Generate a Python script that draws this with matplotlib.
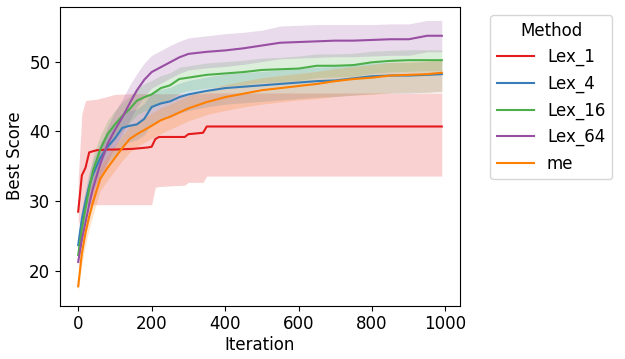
import matplotlib
matplotlib.use("Agg")
import matplotlib.pyplot as plt

# common iteration grid for the four smooth curves
iters = [0, 10, 20, 30, 40, 60, 80, 100, 120, 140, 160, 180, 200, 225, 250, 275,
         300, 350, 400, 450, 500, 550, 600, 650, 700, 750, 800, 850, 900, 950, 990]

lex4_mean = [23.7, 27.5, 30.0, 32.2, 33.8, 36.2, 37.8, 39.0, 40.5, 40.8, 41.0, 41.8, 43.5, 44.0, 44.3, 44.9,
             45.3, 45.8, 46.2, 46.4, 46.6, 46.8, 47.0, 47.2, 47.3, 47.6, 47.9, 48.0, 48.0, 48.1, 48.2]
lex4_lo = [22.6, 25.8, 28.0, 30.0, 31.5, 33.8, 35.4, 36.6, 38.0, 38.5, 38.8, 39.5, 41.1, 41.6, 42.0, 42.6,
           43.0, 43.5, 43.9, 44.1, 44.3, 44.5, 44.7, 44.9, 45.0, 45.2, 45.4, 45.5, 45.5, 45.6, 45.7]
lex4_hi = [24.8, 29.0, 31.8, 34.2, 35.8, 38.4, 40.0, 41.2, 42.6, 43.0, 43.2, 44.0, 45.6, 46.0, 46.3, 46.9,
           47.3, 47.8, 48.2, 48.4, 48.6, 48.8, 49.0, 49.2, 49.3, 49.5, 49.8, 49.9, 49.9, 50.0, 50.1]

lex16_mean = [22.3, 26.0, 29.0, 31.8, 34.3, 37.4, 39.6, 41.0, 42.2, 43.2, 44.4, 44.9, 45.3, 46.2, 46.6, 47.5,
              47.7, 48.1, 48.3, 48.5, 48.8, 48.9, 49.0, 49.4, 49.4, 49.5, 49.9, 50.1, 50.2, 50.2, 50.2]
lex16_lo = [21.2, 24.4, 27.0, 29.6, 32.0, 35.2, 37.4, 38.9, 40.2, 41.2, 42.4, 42.9, 43.3, 44.2, 44.6, 45.5,
            45.8, 46.2, 46.5, 46.7, 47.0, 47.1, 47.3, 47.7, 47.8, 47.9, 48.3, 48.5, 48.6, 48.7, 48.7]
lex16_hi = [23.4, 27.6, 31.0, 33.8, 36.4, 39.4, 41.6, 43.0, 44.2, 45.0, 46.2, 46.8, 47.3, 48.0, 48.4, 49.2,
            49.4, 49.8, 50.0, 50.2, 50.5, 50.6, 50.8, 51.1, 51.1, 51.2, 51.5, 51.6, 51.7, 51.7, 51.7]

lex64_mean = [21.3, 24.5, 27.0, 29.5, 31.8, 35.3, 38.2, 40.2, 42.0, 44.0, 45.9, 47.4, 48.5, 49.2, 49.9, 50.6,
              51.1, 51.4, 51.6, 51.9, 52.3, 52.7, 52.8, 52.9, 53.0, 53.0, 53.1, 53.2, 53.2, 53.7, 53.7]
lex64_lo = [20.4, 23.0, 25.2, 27.4, 29.5, 32.8, 35.7, 37.8, 39.6, 41.6, 43.5, 45.0, 46.2, 46.9, 47.6, 48.3,
            48.8, 49.1, 49.3, 49.6, 50.0, 50.4, 50.5, 50.6, 50.7, 50.7, 50.8, 50.9, 50.9, 51.4, 51.4]
lex64_hi = [22.2, 26.0, 28.8, 31.6, 34.1, 37.8, 40.7, 42.8, 44.6, 46.6, 48.3, 49.8, 50.9, 51.6, 52.3, 52.9,
            53.4, 53.7, 54.0, 54.2, 54.5, 55.1, 55.2, 55.3, 55.3, 55.3, 55.3, 55.4, 55.4, 55.9, 55.9]

me_mean = [17.8, 22.5, 25.5, 27.8, 29.8, 33.2, 34.8, 36.2, 37.6, 38.9, 39.6, 40.2, 40.8, 41.6, 42.1, 42.7,
           43.3, 44.2, 44.9, 45.4, 45.9, 46.2, 46.5, 46.8, 47.2, 47.5, 47.7, 48.0, 48.1, 48.2, 48.4]
me_lo = [17.0, 21.0, 23.8, 26.0, 28.0, 31.5, 33.0, 34.4, 35.8, 37.0, 37.8, 38.4, 39.0, 39.7, 40.3, 40.9,
         41.5, 42.4, 43.0, 43.5, 43.9, 44.2, 44.5, 44.7, 45.0, 45.2, 45.3, 45.5, 45.6, 45.6, 45.7]
me_hi = [18.6, 24.0, 27.2, 29.6, 31.6, 35.0, 36.6, 38.0, 39.4, 40.8, 41.4, 42.0, 42.6, 43.4, 43.9, 44.5,
         45.1, 46.0, 46.7, 47.2, 47.7, 48.0, 48.3, 48.6, 49.0, 49.3, 49.6, 49.9, 50.0, 50.1, 50.3]

# Lex_1 is step-like, so it gets its own iteration points
iters_lex1 = [0, 10, 20, 30, 50, 80, 100, 150, 190, 200, 210, 220, 290, 300, 340, 350, 990]
lex1_mean = [28.5, 33.7, 34.8, 37.0, 37.3, 37.4, 37.4, 37.5, 37.7, 37.8, 38.9, 39.2, 39.2, 39.6, 39.8, 40.7, 40.7]
lex1_lo = [26.5, 28.5, 29.5, 29.5, 29.5, 29.5, 29.5, 29.5, 29.5, 29.5, 32.0, 32.1, 32.3, 32.7, 32.7, 33.6, 33.6]
lex1_hi = [33.0, 42.5, 44.4, 44.5, 44.6, 45.0, 45.3, 45.4, 45.4, 45.4, 45.4, 45.4, 45.4, 45.4, 45.4, 45.5, 45.5]

methods = ["Lex_1", "Lex_4", "Lex_16", "Lex_64", "me"]
colors = ["#e41a1c", "#377eb8", "#4daf4a", "#984ea3", "#ff7f00"]

series = [
    (iters_lex1, lex1_mean, lex1_lo, lex1_hi),
    (iters, lex4_mean, lex4_lo, lex4_hi),
    (iters, lex16_mean, lex16_lo, lex16_hi),
    (iters, lex64_mean, lex64_lo, lex64_hi),
    (iters, me_mean, me_lo, me_hi),
]

plt.rcParams["font.size"] = 12

fig = plt.figure(figsize=(6.25, 3.59), dpi=100)
ax = fig.add_axes([0.096, 0.149, 0.64, 0.832])

for name, color, (x, m, lo, hi) in zip(methods, colors, series):
    ax.fill_between(x, lo, hi, color=color, alpha=0.2, linewidth=0)
    ax.plot(x, m, color=color, linewidth=1.5, label=name)

ax.set_xlabel("Iteration", labelpad=2)
ax.set_ylabel("Best Score")
ax.set_xticks([0, 200, 400, 600, 800, 1000])
ax.set_yticks([20, 30, 40, 50])

ax.legend(title="Method", loc="upper left", bbox_to_anchor=(1.055, 1.0),
          borderaxespad=0.5, handlelength=2.2)

fig.savefig("out.png", dpi=100)
